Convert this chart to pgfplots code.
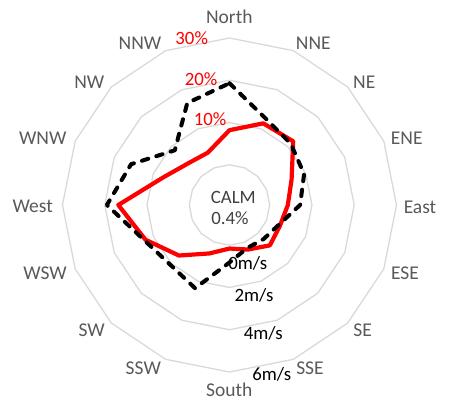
\documentclass[border=0pt]{standalone}
\usepackage{fontspec}
\setmainfont{Carlito}
\usepackage{pgfplots}
\usepgfplotslibrary{polar}
\usepackage{pgfplotstable}
\pgfplotsset{compat=1.18}

\definecolor{ringgray}{HTML}{D9D9D9}
\definecolor{labgray}{HTML}{595959}
\definecolor{calmgray}{HTML}{404040}

% deg = compass direction, pct = frequency (%), ms = mean speed (m/s)
\pgfplotstableread{
deg   pct   ms
0     8.2   3.86
22.5  11.4  2.54
45    11.8  2.20
67.5  6.4   1.92
90    4.3   1.44
112.5 3.4   0.60
135   4.0   0.38
157.5 1.9   0.30
180   0.8   0.82
202.5 2.9   2.36
225   7.4   2.08
247.5 12.0  2.46
270   16.8  3.90
292.5 7.5   3.14
315   4.4   1.76
337.5 3.9   3.32
}\winddata

\begin{document}
\begin{tikzpicture}
\begin{axis}[
  at={(0,0)}, anchor=origin,
  x=4.228bp, y=4.228bp,
  xmin=-54.28, xmax=52.63, ymin=-46.36, ymax=48.49,
  hide axis, clip=false,
  every axis plot/.append style={data cs=polar, line join=round},
]
% polygon rings at 0, 10, 20, 30 % (hole of 9.5 units in the middle)
\pgfplotsinvokeforeach{9.5,19.5,29.5,39.5}{
  \addplot[ringgray, line width=1.3bp] table[x expr=90-\thisrow{deg}, y expr=#1] {\winddata} -- cycle;
}
\addplot[red, line width=4.2bp] table[x expr=90-\thisrow{deg}, y expr=\thisrow{pct}+9.5] {\winddata} -- cycle;
\addplot[black, line width=4bp, line cap=round, dash pattern=on 6.5bp off 8.5bp] table[x expr=90-\thisrow{deg}, y expr=5*\thisrow{ms}+9.5] {\winddata} -- cycle;
\end{axis}

\begin{scope}[every node/.style={anchor=base, inner sep=0pt, font=\fontsize{19.5bp}{23bp}\selectfont, text=labgray}]
\node at (-0.2bp,181.2bp) {North};
\node at (83.8bp,155.2bp) {NNE};
\node at (134.8bp,116.8bp) {NE};
\node at (177.2bp,60.8bp) {ENE};
\node at (190.5bp,-8.2bp) {East};
\node at (175.5bp,-74.2bp) {ESE};
\node at (133.2bp,-131.5bp) {SE};
\node at (80.5bp,-169.8bp) {SSE};
\node at (-0.2bp,-191.2bp) {South};
\node at (-86.2bp,-169.2bp) {SSW};
\node at (-137.8bp,-131.5bp) {SW};
\node at (-184.5bp,-74.2bp) {WSW};
\node at (-196.8bp,-7.5bp) {West};
\node at (-186.8bp,60.8bp) {WNW};
\node at (-140.2bp,116.8bp) {NW};
\node at (-89.5bp,155.2bp) {NNW};
\end{scope}

\begin{scope}[every node/.style={anchor=base, inner sep=0pt, font=\fontsize{18.8bp}{22bp}\selectfont}]
\node[text=red] at (-37.8bp,160.8bp) {30\%};
\node[text=red] at (-28.5bp,119.2bp) {20\%};
\node[text=red] at (-19.5bp,79.5bp) {10\%};
\node[text=black] at (18.2bp,-64.8bp) {0m/s};
\node[text=black] at (24.5bp,-96.5bp) {2m/s};
\node[text=black] at (33.8bp,-134.8bp) {4m/s};
\node[text=black] at (42.2bp,-175.5bp) {6m/s};
\node[text=calmgray] at (3.8bp,1.8bp) {CALM};
\node[text=calmgray] at (0.5bp,-19.8bp) {0.4\%};
\end{scope}

\pgfresetboundingbox
\path[use as bounding box] (-229.5bp,-196bp) rectangle (222.5bp,205bp);
\end{tikzpicture}
\end{document}
